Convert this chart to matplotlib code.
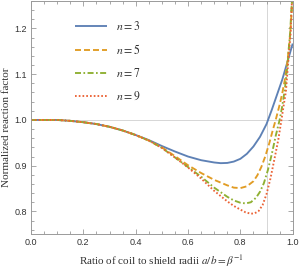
import matplotlib
matplotlib.use("Agg")
import matplotlib.pyplot as plt
from matplotlib.ticker import MultipleLocator

plt.rcParams['mathtext.fontset'] = 'stix'

# ---- data ----
x_common = [0.0, 0.1, 0.15, 0.2, 0.25, 0.3, 0.35, 0.4]
y_common = [1.0, 1.0, 0.998, 0.995, 0.991, 0.985, 0.977, 0.967]

x_n3 = x_common + [0.45, 0.5, 0.55, 0.6, 0.65, 0.7, 0.725, 0.75, 0.775, 0.8, 0.825, 0.85,
                   0.875, 0.9, 0.92, 0.94, 0.96, 0.98, 1.0]
y_n3 = y_common + [0.956, 0.943, 0.931, 0.920, 0.912, 0.907, 0.9055, 0.906, 0.909, 0.915,
                   0.926, 0.942, 0.963, 0.991, 1.022, 1.055, 1.088, 1.127, 1.167]

x_n5 = x_common + [0.45, 0.5, 0.55, 0.6, 0.65, 0.7, 0.75, 0.775, 0.8, 0.825, 0.85, 0.865,
                   0.88, 0.895, 0.91, 0.925, 0.935, 0.95, 0.96, 0.97, 0.98, 0.99, 1.0]
y_n5 = y_common + [0.955, 0.940, 0.921, 0.901, 0.884, 0.869, 0.857, 0.852, 0.851, 0.855,
                   0.866, 0.879, 0.897, 0.920, 0.948, 0.980, 1.0, 1.033, 1.058, 1.088,
                   1.128, 1.185, 1.27]

x_n7 = x_common + [0.45, 0.5, 0.55, 0.6, 0.65, 0.7, 0.75, 0.775, 0.8, 0.82, 0.84, 0.86,
                   0.875, 0.89, 0.905, 0.92, 0.935, 0.95, 0.96, 0.97, 0.98, 0.99, 1.0]
y_n7 = y_common + [0.955, 0.939, 0.918, 0.897, 0.876, 0.852, 0.832, 0.824, 0.819, 0.8175,
                   0.820, 0.830, 0.843, 0.862, 0.890, 0.925, 0.965, 1.0, 1.030, 1.067,
                   1.12, 1.19, 1.29]

x_n9 = x_common + [0.45, 0.5, 0.55, 0.6, 0.65, 0.7, 0.75, 0.775, 0.8, 0.82, 0.84, 0.855,
                   0.87, 0.885, 0.9, 0.915, 0.93, 0.945, 0.957, 0.965, 0.974, 0.982,
                   0.992, 1.0]
y_n9 = y_common + [0.955, 0.939, 0.918, 0.896, 0.872, 0.845, 0.822, 0.812, 0.804, 0.798,
                   0.795, 0.796, 0.801, 0.814, 0.838, 0.872, 0.914, 0.957, 1.0, 1.03,
                   1.062, 1.12, 1.19, 1.30]

labels = [r'$n=3$', r'$n=5$', r'$n=7$', r'$n=9$']
colors = ['#5E81B5', '#E19C24', '#8FB032', '#EB6235']
styles = ['-', (0, (3.2, 1.6)), (0, (3.2, 1.3, 0.9, 1.3)), (0, (0.9, 1.1))]

xlim = (0.0, 1.0)
ylim = (0.75, 1.26)
grid_x = [0.9]
grid_y = [1.0]

xs = [x_n3, x_n5, x_n7, x_n9]
ys = [y_n3, y_n5, y_n7, y_n9]

fig = plt.figure(figsize=(2.99, 2.68), dpi=100)
ax = fig.add_axes([31/299, 1-234.3/268, 261.7/299, 233.3/268])

for gx in grid_x:
    ax.axvline(gx, color='#d6d6d6', lw=0.7, zorder=0)
for gy in grid_y:
    ax.axhline(gy, color='#d6d6d6', lw=0.7, zorder=0)

for x, y, lab, c, ls in zip(xs, ys, labels, colors, styles):
    ax.plot(x, y, color=c, ls=ls, lw=1.35, label=lab, solid_capstyle='butt',
            dash_capstyle='butt', solid_joinstyle='round', clip_on=True)

ax.set_xlim(*xlim)
ax.set_ylim(*ylim)

ax.xaxis.set_major_locator(MultipleLocator(0.2))
ax.xaxis.set_minor_locator(MultipleLocator(0.05))
ax.yaxis.set_major_locator(MultipleLocator(0.1))
ax.yaxis.set_minor_locator(MultipleLocator(0.02))
ax.xaxis.set_major_formatter(plt.FuncFormatter(lambda v, p: f'{v:.1f}'))
ax.yaxis.set_major_formatter(plt.FuncFormatter(lambda v, p: f'{v:.1f}'))

frame_c = '#9a9a9a'
for s in ax.spines.values():
    s.set_color(frame_c)
    s.set_linewidth(0.7)
ax.tick_params(which='both', direction='in', top=True, right=True, color=frame_c,
               width=0.6, labelsize=6.5, labelcolor='#333333')
ax.tick_params(which='major', length=3.5, pad=3)
ax.tick_params(which='minor', length=2)
for t in ax.get_xticklabels() + ax.get_yticklabels():
    t.set_fontfamily('Liberation Sans')

ax.set_xlabel(r'Ratio of coil to shield radii $a/b=\beta^{-1}$', fontsize=8,
              family='Liberation Serif', color='#333333', labelpad=4)
ax.set_ylabel('Normalized reaction factor', fontsize=8, family='Liberation Serif',
              color='#333333')
ax.yaxis.set_label_coords(-0.075, 0.46)

leg = ax.legend(loc='upper left', bbox_to_anchor=(0.168, 0.918), frameon=False,
                fontsize=8.5, handlelength=2.75, handletextpad=0.7, labelspacing=0.85,
                borderpad=0, borderaxespad=0)
for t in leg.get_texts():
    t.set_color('#333333')

fig.savefig('out.png', dpi=100)
